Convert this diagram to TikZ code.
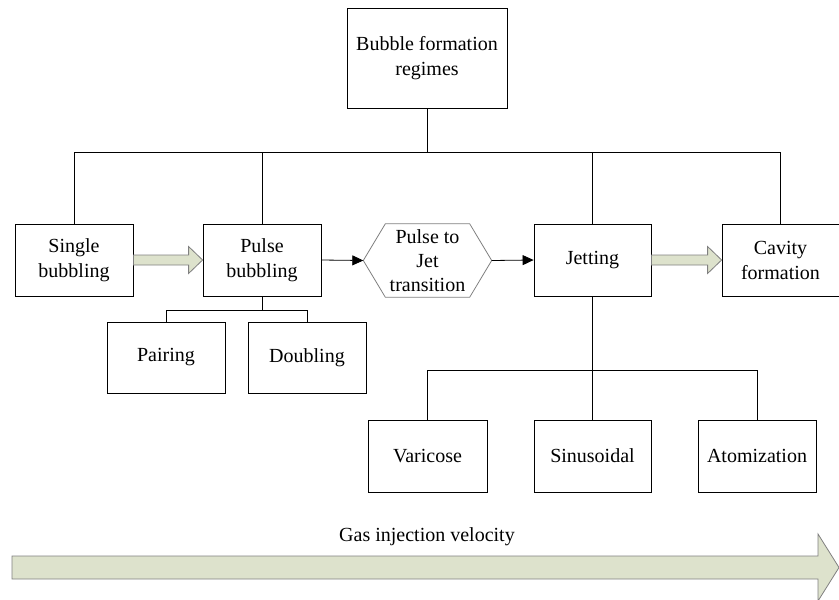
\documentclass[tikz,border=0pt]{standalone}
\usepackage{fontspec}
\setmainfont{Liberation Serif}
\usetikzlibrary{arrows.meta,calc}
\definecolor{fatfill}{RGB}{221,226,204}
\definecolor{fatline}{RGB}{128,128,128}
\begin{document}
\begin{tikzpicture}[x=1pt,y=-1pt,
  box/.style={draw=black,line width=0.8pt,fill=white,minimum width=118pt,minimum height=72pt,align=center,inner sep=2pt,
    font=\fontsize{20}{25}\selectfont},
  conn/.style={draw=black,line width=0.8pt},
  arr/.style={draw=black,line width=0.8pt,-{Triangle[length=11pt,width=10pt]}},
  fat/.style={draw=fatline,fill=fatfill,line width=0.8pt}]
\useasboundingbox (0,0) rectangle (839,600);
\clip (0,0) rectangle (839,600);
% nodes
\node[box,minimum width=160pt,minimum height=100pt] (top) at (427,58) {Bubble formation\\regimes};
\node[box] (single) at (74,260) {Single\\bubbling};
\node[box] (pulse) at (262,260) {Pulse\\bubbling};
\node[align=center,minimum width=128pt,minimum height=73pt,inner sep=0pt,font=\fontsize{20}{24}\selectfont] (hex) at (427.5,260.5) {Pulse to\\Jet\\transition};
\node[box,minimum width=117pt] (jet) at (592.5,260) {Jetting};
\node[box,minimum width=117pt] (cav) at (780.5,260) {Cavity\\formation};
\node[box,minimum height=71pt] (pair) at (166,357.5) {Pairing};
\node[box,minimum height=71pt] (doub) at (307,357.5) {Doubling};
\node[box,minimum width=119pt] (var) at (427.5,456) {Varicose};
\node[box,minimum width=117pt] (sin) at (592.5,456) {Sinusoidal};
\node[box] (atom) at (757,456) {Atomization};
% hexagon outline
\draw[draw=fatline,line width=0.8pt] (hex.west) -- ($(hex.north west)+(22,0)$) -- ($(hex.north east)+(-22,0)$) -- (hex.east) -- ($(hex.south east)+(-22,0)$) -- ($(hex.south west)+(22,0)$) -- cycle;
% top tree
\coordinate (bus) at (0,152);
\draw[conn] (top.south) -- (top.south |- bus);
\draw[conn] (single.north) -- (single.north |- bus) -- (cav.north |- bus) -- (cav.north);
\draw[conn] (pulse.north) -- (pulse.north |- bus);
\draw[conn] (jet.north) -- (jet.north |- bus);
% pulse subtree
\coordinate (pbus) at (0,310);
\draw[conn] (pulse.south) -- (pulse.south |- pbus);
\draw[conn] (pair.north) -- (pair.north |- pbus) -- (doub.north |- pbus) -- (doub.north);
% jet subtree
\coordinate (jbus) at (0,370);
\draw[conn] (jet.south) -- (sin.north);
\draw[conn] (var.north) -- (var.north |- jbus) -- (atom.north |- jbus) -- (atom.north);
% arrows
\draw[arr] (pulse.east) -- (hex.west);
\draw[arr] (hex.east) -- (jet.west);
% fat arrows
\draw[fat] ([yshift=5]single.east) -- ([xshift=-14,yshift=5]pulse.west) -- ([xshift=-14,yshift=13.5]pulse.west) -- (pulse.west) -- ([xshift=-14,yshift=-13.5]pulse.west) -- ([xshift=-14,yshift=-5]pulse.west) -- ([yshift=-5]single.east) -- cycle;
\draw[fat] ([yshift=5]jet.east) -- ([xshift=-14,yshift=5]cav.west) -- ([xshift=-14,yshift=13.5]cav.west) -- (cav.west) -- ([xshift=-14,yshift=-13.5]cav.west) -- ([xshift=-14,yshift=-5]cav.west) -- ([yshift=-5]jet.east) -- cycle;
% bottom velocity arrow
\coordinate (vs) at (12,567.5);
\coordinate (ve) at (839,567.5);
\draw[fat] ([yshift=11.5]vs) -- ([xshift=-21,yshift=11.5]ve) -- ([xshift=-21,yshift=33.5]ve) -- (ve) -- ([xshift=-21,yshift=-33.5]ve) -- ([xshift=-21,yshift=-11.5]ve) -- ([yshift=-11.5]vs) -- cycle;
\node[font=\fontsize{20}{24}\selectfont,inner sep=0pt] (gas) at (427,537) {Gas injection velocity};
\end{tikzpicture}
\end{document}
